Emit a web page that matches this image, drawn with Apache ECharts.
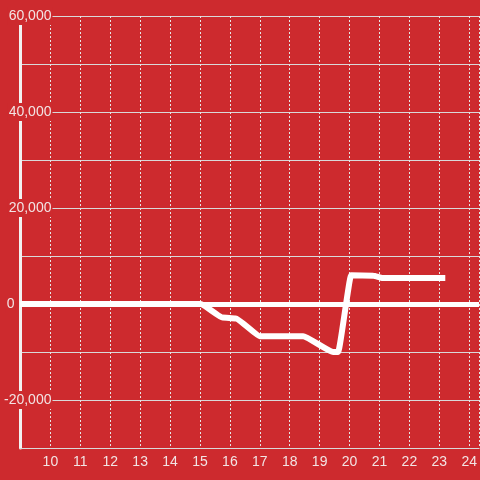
<!DOCTYPE html>
<html>
<head>
<meta charset="utf-8">
<style>
  html, body { margin: 0; padding: 0; background: #cd2a2e; }
  #chart { width: 480px; height: 480px; }
</style>
<script src="https://cdn.jsdelivr.net/npm/echarts@6/dist/echarts.min.js"></script>
</head>
<body>
<div id="chart"></div>
<script>
const bg = '#cd2a2e'

// hour of day and value
const hours = [9, 15.03, 15.75, 16.2, 17.0, 18.45, 19.45, 19.62, 20.05, 20.8, 21.1, 23.2]
const values = [0, 0, -2800, -3000, -6700, -6700, -10000, -10000, 6000, 5900, 5400, 5400]
const yTicks = [-20000, 0, 20000, 40000, 60000]

const chart = echarts.init(document.getElementById('chart'))

chart.setOption({
  backgroundColor: bg,
  animation: false,
  grid: {
    top: 16,
    bottom: 32,
    left: 20,
    right: 0
  },
  xAxis: {
    type: 'value',
    min: 9,
    max: 24.33,
    interval: 1,
    axisLine: {
      onZero: false,
      lineStyle: { color: '#d9d9d9', width: 1 }
    },
    axisTick: { show: false },
    axisLabel: {
      showMinLabel: false,
      showMaxLabel: false,
      color: '#f2e4e4',
      fontSize: 14,
      fontFamily: 'Liberation Sans, Arial, sans-serif',
      margin: 7
    },
    splitLine: {
      show: true,
      lineStyle: { color: '#e6e6e6', type: [2, 2], width: 1 }
    }
  },
  yAxis: {
    type: 'value',
    min: -30000,
    max: 60000,
    interval: 10000,
    axisLine: {
      show: true,
      lineStyle: { color: '#f2f2f2', width: 3 }
    },
    axisTick: { show: false },
    axisLabel: {
      color: '#f2e4e4',
      fontSize: 14,
      fontFamily: 'Liberation Sans, Arial, sans-serif',
      margin: -32,
      formatter: function (v) {
        if (yTicks.indexOf(v) < 0) return ''
        if (v === 0) return '{z|0}{s|}'
        return '{n|' + v.toLocaleString('en-US') + '}'
      },
      rich: {
        n: { backgroundColor: bg, padding: [2, 1], color: '#f2e4e4', fontSize: 14 },
        z: { backgroundColor: bg, padding: [2, 1], color: '#f2e4e4', fontSize: 14 },
        s: { width: 37 }
      }
    },
    splitLine: {
      show: true,
      lineStyle: { color: '#d9d9d9', width: 1 }
    }
  },
  series: [{
    type: 'line',
    data: hours.map((h, i) => [h, values[i]]),
    showSymbol: false,
    smooth: 0.12,
    smoothMonotone: 'x',
    lineStyle: { color: '#ffffff', width: 6 },
    markLine: {
      silent: true,
      symbol: 'none',
      label: { show: false },
      lineStyle: { color: '#ffffff', width: 5, type: 'solid' },
      data: [{ yAxis: 0 }]
    }
  }]
})
</script>
</body>
</html>
